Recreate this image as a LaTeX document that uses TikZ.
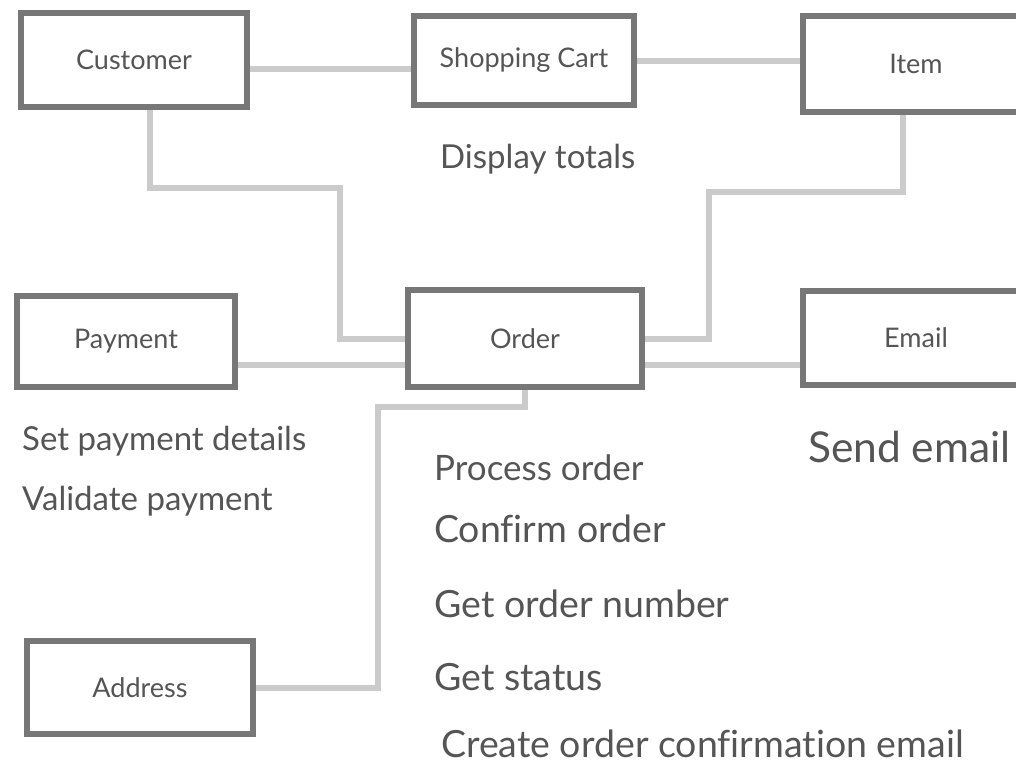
\documentclass[tikz,border=0pt]{standalone}
\usepackage{fontspec}
\setmainfont{Lato}[Ligatures=NoCommon]
\usetikzlibrary{backgrounds}
\definecolor{boxgray}{HTML}{777777}
\definecolor{linkgray}{HTML}{CBCBCB}
\definecolor{textgray}{HTML}{555555}
\tikzset{
  classbox/.style={draw=boxgray, line width=6pt, fill=white, inner sep=0pt,
    text=textgray, font=\fontsize{27}{30}\selectfont},
  link/.style={draw=linkgray, line width=6pt},
  op/.style={anchor=base west, inner sep=0pt, text=textgray,
    font=\fontsize{33}{36}\selectfont},
  bigop/.style={op, font=\fontsize{37.5}{40}\selectfont},
}
\begin{document}
\begin{tikzpicture}[x=1pt, y=-1pt]
  \clip (0,0) rectangle (1016,763);
  % --- クラスの箱 ---
  \node[classbox, minimum width=226pt, minimum height=94pt] (customer) at (134,60) {Customer};
  \node[classbox, minimum width=220pt, minimum height=89pt] (cart) at (524,60.5) {Shopping Cart};
  \node[classbox, minimum width=226pt, minimum height=96pt] (item) at (916,64) {Item};
  \node[classbox, minimum width=234pt, minimum height=97pt] (order) at (525,338.5) {Order};
  \node[classbox, minimum width=218pt, minimum height=91pt] (payment) at (126,341.5) {Payment};
  \node[classbox, minimum width=226pt, minimum height=94pt] (email) at (916,338) {Email};
  \node[classbox, minimum width=226pt, minimum height=93pt] (address) at (140,687.5) {Address};
  % --- 操作の文字 ---
  \node[op] (totals) at (440,168) {Display totals};
  \node[op] (setpay) at (22,450) {Set payment details};
  \node[op] (valpay) at (22,510) {Validate payment};
  \node[op, font=\fontsize{35}{38}\selectfont] (process) at (434,480) {Process order};
  \node[bigop] (confirm) at (434,542) {Confirm order};
  \node[bigop] (number) at (434,617) {Get order number};
  \node[bigop] (status) at (434,690) {Get status};
  \node[bigop] (mail) at (441,757) {Create order confirmation email};
  \node[op, font=\fontsize{42.5}{46}\selectfont] (send) at (808,462) {Send email};
  % --- 灰色の線(箱の下) ---
  \begin{pgfonlayer}{background}
    \fill[white] (0,0) rectangle (1016,763);
    \coordinate (toprow) at (0,69);
    \coordinate (midrow) at (0,365);
    \draw[link] (customer.east |- toprow) -- (cart.west |- toprow);
    \draw[link] (cart.east) -- (cart.east -| item.west);
    \draw[link] ([xshift=16pt]customer.south) |- (340,188) |- (order.west);
    \draw[link] ([xshift=-13pt]item.south) |- (709,192) |- (order.east);
    \draw[link] (payment.east |- midrow) -- (order.west |- midrow);
    \draw[link] (order.east |- midrow) -- (email.west |- midrow);
    \draw[link] (address.east) -| (378,407) -| (order.south);
  \end{pgfonlayer}
\end{tikzpicture}
\end{document}
